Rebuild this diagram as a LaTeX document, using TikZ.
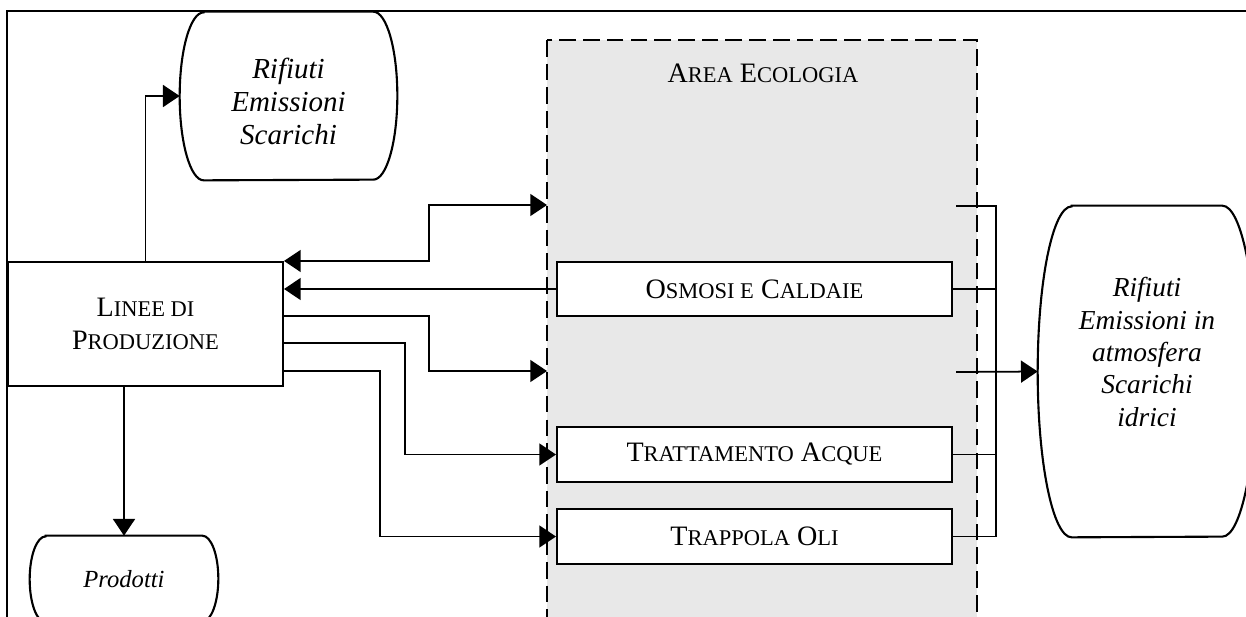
\documentclass[tikz,border=0pt]{standalone}
\usepackage{fontspec}
\setmainfont{Liberation Serif}
\usetikzlibrary{arrows.meta}
\definecolor{grigio}{HTML}{E8E8E8}
% maiuscoletto finto
\newcommand{\mc}[1]{{\fontsize{12.8}{14}\selectfont #1}}
% bordo con i lati a semiellisse
\newcommand{\terminale}[3]{%
  \draw[bordo] ([xshift=#2]#1.north west) -- ([xshift=-#2]#1.north east)
    arc[start angle=90, end angle=-90, x radius=#2, y radius=#3]
    -- ([xshift=#2]#1.south west)
    arc[start angle=270, end angle=90, x radius=#2, y radius=#3] -- cycle;}

\begin{document}
\begin{tikzpicture}[x=0.02cm,y=-0.02cm,
    >={Triangle[length=9.5pt,width=12.5pt]},
    linea/.style={line width=1pt},
    scatola/.style={draw,line width=1.2pt,fill=white,align=center,inner sep=0pt,
      font=\fontsize{16}{19.2}\selectfont},
    forma/.style={inner sep=0pt,align=center},
    bordo/.style={line width=1.2pt}]
    \useasboundingbox (0,0) rectangle (1246,616);

    % Riquadro esterno
    \draw[line width=1.2pt] (7,11) rectangle (1290,660);

    % Area ecologia
    \draw[dash pattern=on 9.5pt off 4pt, line width=1.1pt, fill=grigio] (547,40) rectangle (977,680);
    \node[font=\fontsize{16}{19}\selectfont] (titolo) at (763,73) {A\mc{REA} E\mc{COLOGIA}};

    % Impianti
    \node[scatola, minimum width=7.9cm, minimum height=1.08cm] (osmosi) at (754.5,289) {O\mc{SMOSI E} C\mc{ALDAIE}};
    \node[scatola, minimum width=7.9cm, minimum height=1.1cm] (tratt) at (754.5,454.5) {T\mc{RATTAMENTO} A\mc{CQUE}};
    \node[scatola, minimum width=7.9cm, minimum height=1.1cm] (trappola) at (754.5,536.5) {T\mc{RAPPOLA} O\mc{LI}};

    % Linee di produzione
    \node[scatola, minimum width=5.5cm, minimum height=2.48cm] (linee) at (145.5,324) {L\mc{INEE DI}\\P\mc{RODUZIONE}};

    % Uscite
    \node[forma, minimum width=4.34cm, minimum height=3.36cm] (rif1) at (288.5,96) {};
    \terminale{rif1}{0.48cm}{1.68cm}
    \node[forma, font=\fontsize{16.5}{19}\selectfont\itshape] (rif1testo) at (288.5,101.5) {Rifiuti\\Emissioni\\Scarichi};
    \node[forma, font=\fontsize{14}{17}\selectfont\itshape, minimum width=3.76cm, minimum height=1.72cm] (prod) at (124,579) {Prodotti};
    \terminale{prod}{0.32cm}{0.86cm}
    \node[forma, minimum width=4.36cm, minimum height=6.62cm] (rif2) at (1147,371.5) {};
    \terminale{rif2}{0.68cm}{3.31cm}
    \node[forma, font=\fontsize{15.6}{18.4}\selectfont\itshape] (rif2testo) at (1147,352) {Rifiuti\\Emissioni in\\atmosfera\\Scarichi\\idrici};

    % Punti sul bordo dell'area
    \coordinate (e1) at (547,205);
    \coordinate (e3) at (547,371);
    \coordinate (o1) at (956,206);
    \coordinate (o3) at (956,372);
    \coordinate (bus) at (996,206);

    % Collegamenti a sinistra
    \draw[linea,->] (linee.north) |- (rif1.west);
    \draw[linea,->] (linee.south -| prod.north) -- (prod.north);
    \draw[linea,<->] (linee.north east) -- ++(145,0) |- (e1);
    \draw[linea,->] (osmosi.west) -- (osmosi.west -| linee.east);
    \draw[linea,->] (linee.east) ++(0,-8) -- ++(145,0) |- (e3);
    \draw[linea,->] (linee.east) ++(0,19) -- ++(121,0) |- (tratt.west);
    \draw[linea,->] (linee.east) ++(0,47) -- ++(96,0) |- (trappola.west);

    % Collegamenti a destra
    \draw[linea] (o1) -- (bus) -- (bus |- trappola.east) -- (trappola.east);
    \draw[linea] (osmosi.east) -- (osmosi.east -| bus);
    \draw[linea] (tratt.east) -- (tratt.east -| bus);
    \draw[linea,->] (o3) -- (rif2.west);
\end{tikzpicture}
\end{document}
